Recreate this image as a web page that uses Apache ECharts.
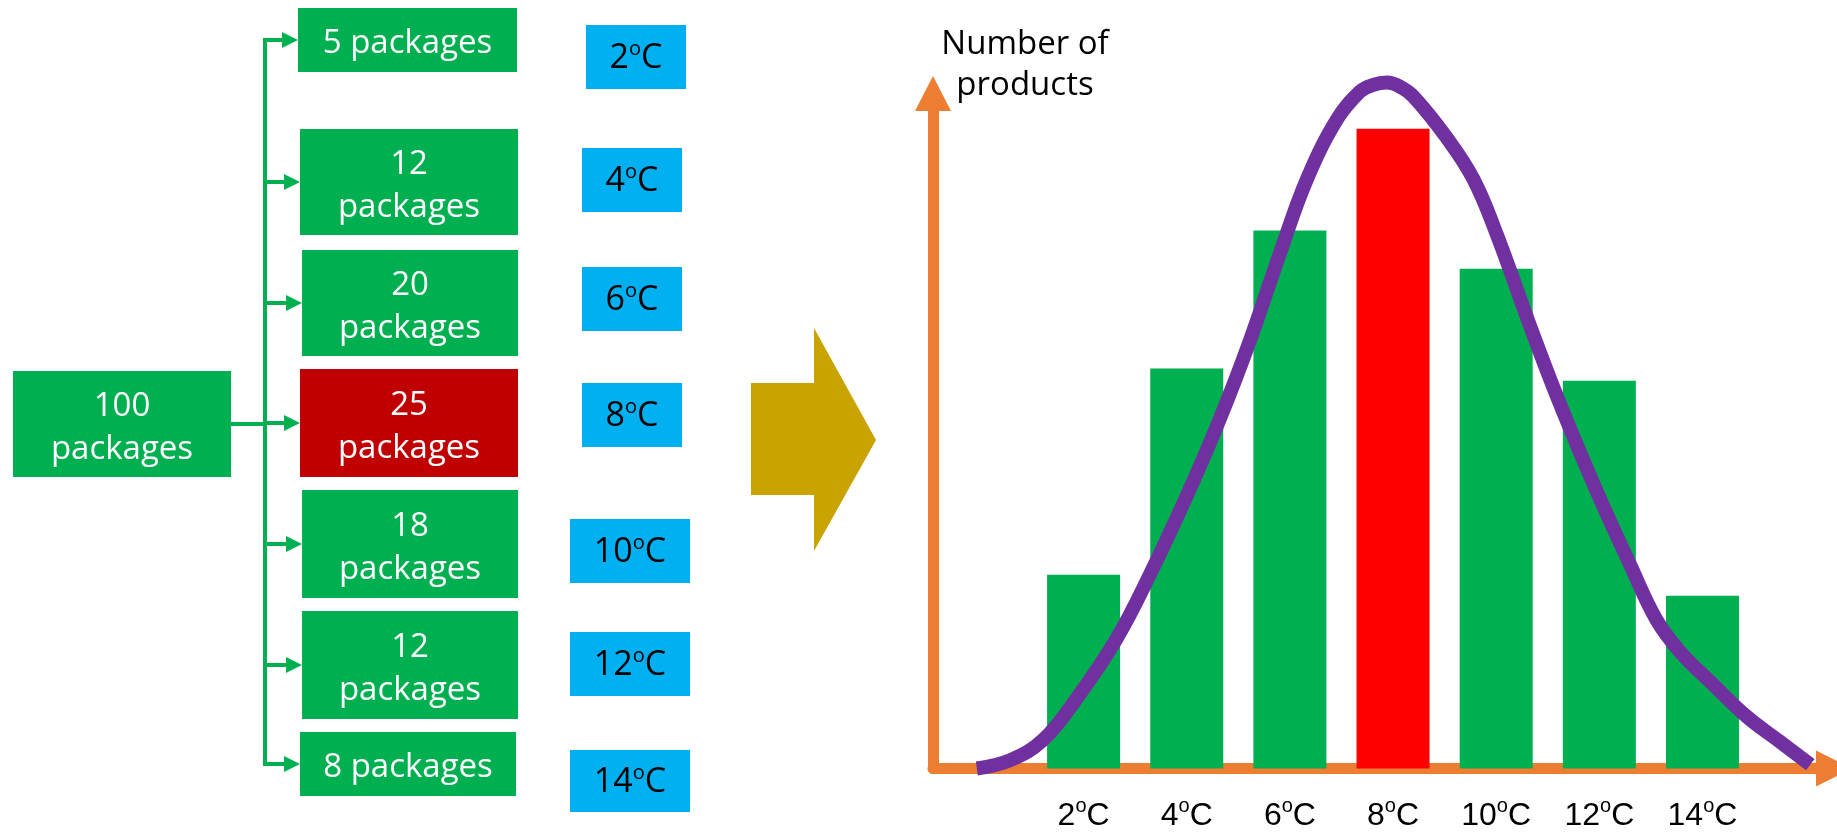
<!DOCTYPE html>
<html><head><meta charset="utf-8">
<script src="https://cdn.jsdelivr.net/npm/echarts@6/dist/echarts.min.js"></script>
<style>html,body{margin:0;padding:0;background:#fff}#c{width:1837px;height:837px}</style>
</head><body><div id="c"></div>
<script>
// ---------- data ----------
const temperatures = [2, 4, 6, 8, 10, 12, 14];
const packageCounts = [5, 12, 20, 25, 18, 12, 8];
const totalPackages = 100;
const productCounts = [30.3, 62.5, 84.1, 100, 78.1, 60.6, 27.0];
const highlightTemp = 8;
const curveTemps = [-0.07, 0.58, 1.22, 1.87, 2.64, 3.29, 4.00, 4.65, 5.23, 5.81, 6.33, 6.91, 7.36, 7.60, 7.88, 8.15, 8.40, 9.04, 9.56, 10.01, 10.66, 11.24, 11.95, 12.60, 13.11, 13.57, 14.21, 14.86, 15.50, 16.09];
const curveValues = [0, 1.3, 4.5, 11.0, 20.3, 30.4, 42.6, 54.8, 67.0, 80.6, 92.1, 101.4, 105.8, 106.8, 107.2, 106.5, 105.0, 98.6, 92.1, 83.5, 69.1, 56.9, 43.3, 31.8, 23.2, 18.2, 13.1, 8.1, 4.2, 0.6];
const yAxisName = 'Number of\nproducts';
const unitWord = 'packages';

// ---------- styles / layout ----------
const GREEN = '#00B050', DARKRED = '#C00000', BLUE = '#00B0F0', RED = '#FF0000';
const PURPLE = '#7030A0', ORANGE = '#ED7D31', GOLD = '#C9A300';
const BOX_FONT = 'Open Sans';
const AXIS_FONT = 'Liberation Sans';
const layout = {
  source: { x: 13, y: 371, w: 218, h: 106 },
  pkgX: [298, 300, 302, 300, 302, 302, 300],
  pkgW: [219, 218, 216, 218, 216, 216, 216],
  pkgTop: [8, 129, 250, 369, 490, 611, 732],
  pkgH: [64, 106, 106, 108, 108, 108, 64],
  tmpX: [586, 582, 582, 582, 570, 570, 570],
  tmpW: [100, 100, 100, 100, 120, 120, 120],
  tmpTop: [25, 148, 267, 383, 519, 632, 750],
  tmpH: [64, 64, 64, 64, 64, 64, 62],
  trunkX: 265,
  lineW: 4,
  head: 16,
  textDy: 4
};

const graphics = [];
function rectBox(x, y, w, h, fill, text, style, dy) {
  graphics.push({ type: 'rect', shape: { x, y, width: w, height: h }, style: { fill }, z: 1 });
  graphics.push({ type: 'text', x: x + w / 2, y: y + h / 2 + (dy || 0), z: 2,
    style: Object.assign({ text, align: 'center', verticalAlign: 'middle' }, style) });
}
const whiteText = { fill: '#fff', fontSize: 33, fontFamily: BOX_FONT, lineHeight: 43 };
function tempRich(color, fam, big, small) {
  return {
    a: { fontSize: big, fontFamily: fam, lineHeight: 36, verticalAlign: 'bottom', [color.key]: color.val },
    b: { fontSize: small, fontFamily: fam, lineHeight: 19, verticalAlign: 'top', [color.key]: color.val }
  };
}

// source box
const L = layout;
rectBox(L.source.x, L.source.y, L.source.w, L.source.h, GREEN, totalPackages + '\n' + unitWord, whiteText, L.textDy);

// package boxes + arrows
const centers = [];
packageCounts.forEach((n, i) => {
  const h = L.pkgH[i];
  const txt = h < 80 ? n + ' ' + unitWord : n + '\n' + unitWord;
  const fill = temperatures[i] === highlightTemp ? DARKRED : GREEN;
  rectBox(L.pkgX[i], L.pkgTop[i], L.pkgW[i], h, fill, txt, whiteText, L.textDy);
  const cy = L.pkgTop[i] + h / 2;
  centers.push(cy);
  const tip = L.pkgX[i];
  graphics.push({ type: 'line', shape: { x1: L.trunkX, y1: cy, x2: tip - L.head + 1, y2: cy },
    style: { stroke: GREEN, lineWidth: L.lineW }, z: 1 });
  graphics.push({ type: 'polygon', shape: { points: [[tip - L.head, cy - 8], [tip, cy], [tip - L.head, cy + 8]] },
    style: { fill: GREEN }, z: 1 });
});
// vertical trunk and source connector
graphics.push({ type: 'line', shape: { x1: L.trunkX, y1: centers[0] - L.lineW / 2, x2: L.trunkX, y2: centers[centers.length - 1] + L.lineW / 2 },
  style: { stroke: GREEN, lineWidth: L.lineW }, z: 1 });
graphics.push({ type: 'line', shape: { x1: L.source.x + L.source.w, y1: L.source.y + L.source.h / 2, x2: L.trunkX, y2: L.source.y + L.source.h / 2 },
  style: { stroke: GREEN, lineWidth: L.lineW }, z: 1 });

// temperature boxes
temperatures.forEach((t, i) => {
  rectBox(L.tmpX[i], L.tmpTop[i], L.tmpW[i], L.tmpH[i], BLUE, '{a|' + t + '}{b|o}{a|C}',
    { rich: tempRich({ key: 'fill', val: '#000' }, BOX_FONT, 34, 20) }, 0);
});

// block arrow
graphics.push({ type: 'polygon', z: 1, style: { fill: GOLD },
  shape: { points: [[751, 383], [814, 383], [814, 328], [876, 440], [814, 551], [814, 495], [751, 495]] } });

// ---------- chart ----------
const chart = echarts.init(document.getElementById('c'), null, { renderer: 'canvas' });
const barData = temperatures.map((t, i) => ({
  value: [t, productCounts[i]],
  itemStyle: { color: t === highlightTemp ? RED : GREEN }
}));
const curveData = curveTemps.map((t, i) => [t, curveValues[i]]);

chart.setOption({
  animation: false,
  grid: { left: 933, right: 3, top: 93.5, bottom: 68.5, containLabel: false, outerBoundsMode: 'none' },
  xAxis: {
    type: 'value', min: -0.92, max: 16.55,
    axisLine: { show: true, onZero: false, symbol: ['none', 'triangle'], symbolSize: [36, 36],
      lineStyle: { color: ORANGE, width: 11 } },
    axisTick: { show: false },
    splitLine: { show: false },
    axisLabel: {
      show: true, customValues: temperatures, margin: 28,
      formatter: v => '{a|' + v + '}{b|o}{a|C}',
      rich: tempRich({ key: 'color', val: '#000' }, AXIS_FONT, 32, 20)
    }
  },
  yAxis: {
    type: 'value', min: 0, max: 105.5,
    name: yAxisName, nameLocation: 'end', nameGap: -12.5,
    nameTextStyle: { fontFamily: BOX_FONT, fontSize: 33, color: '#000', lineHeight: 41,
      align: 'center', verticalAlign: 'bottom', padding: [0, 0, 0, 184] },
    axisLine: { show: true, onZero: false, symbol: ['none', 'triangle'], symbolSize: [36, 35],
      lineStyle: { color: ORANGE, width: 11 } },
    axisTick: { show: false },
    axisLabel: { show: false },
    splitLine: { show: false }
  },
  series: [
    { type: 'bar', data: barData, barWidth: 73, z: 3 },
    { type: 'line', data: curveData, smooth: 0.4, symbol: 'none', showSymbol: false, clip: false, z: 5,
      lineStyle: { color: PURPLE, width: 14, cap: 'butt' } }
  ],
  graphic: graphics
});
</script></body></html>
